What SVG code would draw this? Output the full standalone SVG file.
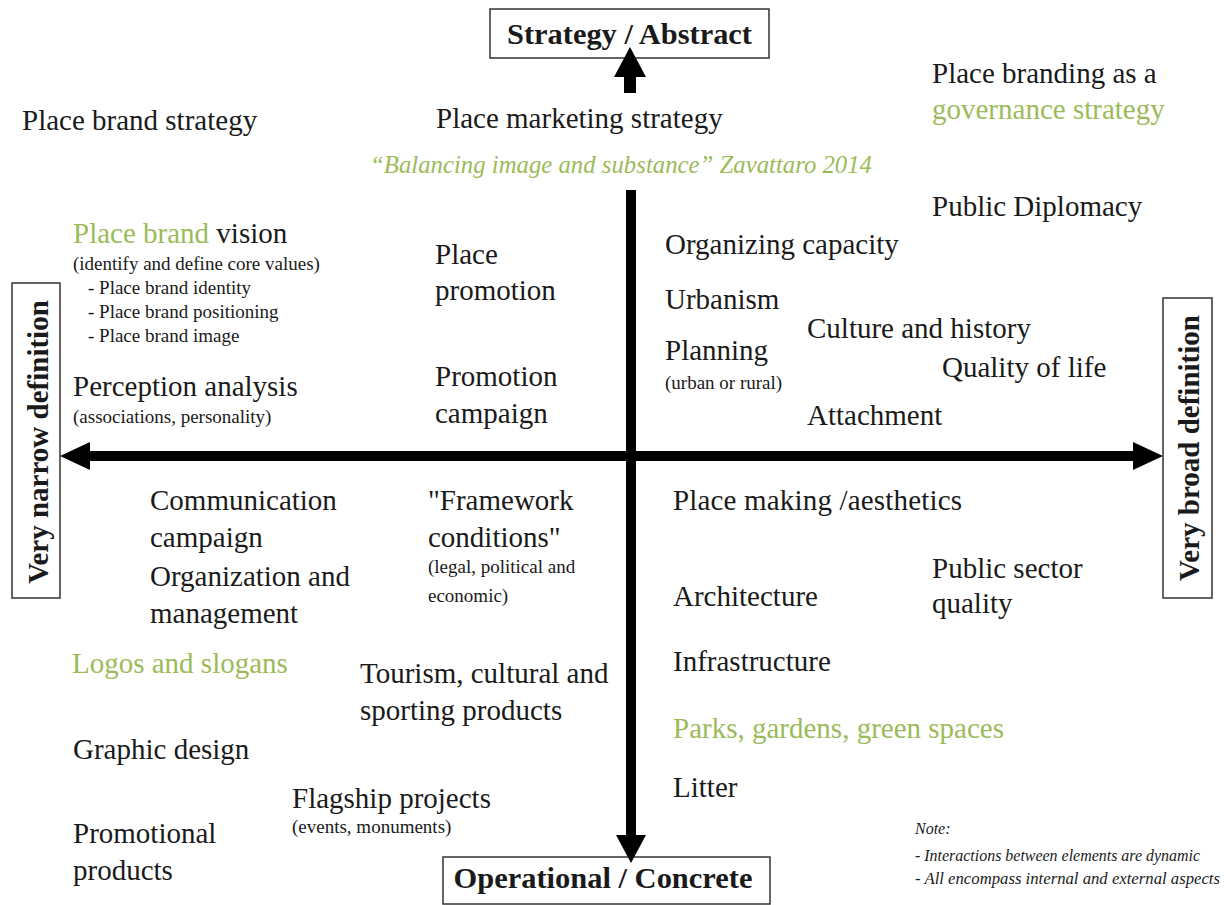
<svg xmlns="http://www.w3.org/2000/svg" width="1224" height="905" viewBox="0 0 1224 905">
<style>
text{font-family:"Liberation Serif","Times New Roman",serif;fill:#1a1a1a}
.t{font-size:29px}
.s{font-size:19px}
.g{fill:#9bbb59}
.q{font-size:26px;font-style:italic;fill:#9bbb59}
.n{font-size:16px;font-style:italic}
.b{font-size:29px;font-weight:bold}
.box{fill:#fff;stroke:#333;stroke-width:1.5}
.ax{fill:#000;stroke:none}
</style>
<rect x="0" y="0" width="1224" height="905" fill="#fff"/>

<g id="node-top">
<rect class="box" x="490" y="9" width="279" height="49"/>
<text class="b" x="629.5" y="44" text-anchor="middle" textLength="245" lengthAdjust="spacingAndGlyphs">Strategy / Abstract</text>
</g>
<g id="node-bottom">
<rect class="box" x="443" y="857" width="327" height="47"/>
<text class="b" x="603" y="888" text-anchor="middle" textLength="299" lengthAdjust="spacingAndGlyphs">Operational / Concrete</text>
</g>
<g id="node-left">
<rect class="box" x="12" y="283" width="48" height="315"/>
<text class="b" transform="translate(48,442) rotate(-90)" text-anchor="middle">Very narrow definition</text>
</g>
<g id="node-right">
<rect class="box" x="1163" y="298" width="49" height="300"/>
<text class="b" transform="translate(1199,448) rotate(-90)" text-anchor="middle">Very broad definition</text>
</g>

<g id="connectors">
<rect class="ax" x="624" y="76" width="12" height="17"/>
<polygon class="ax" points="630,47 646,77 614,77"/>
<rect class="ax" x="626" y="190" width="10" height="646"/>
<polygon class="ax" points="631,863 616,835 646,835"/>
<rect class="ax" x="89" y="451" width="1045" height="10"/>
<polygon class="ax" points="60,456 90,442 90,470"/>
<polygon class="ax" points="1163,456 1133,442 1133,470"/>
</g>

<g id="q1-strategy">
<text class="t" x="22" y="130">Place brand strategy</text>
</g>
<g id="q-marketing">
<text class="t" x="436" y="128">Place marketing strategy</text>
<text class="q" x="370" y="173" textLength="502" lengthAdjust="spacingAndGlyphs">“Balancing image and substance” Zavattaro 2014</text>
</g>
<g id="governance">
<text class="t" x="932" y="83">Place branding as a</text>
<text class="t g" x="932" y="119">governance strategy</text>
</g>
<g id="diplomacy"><text class="t" x="932" y="216">Public Diplomacy</text></g>

<g id="vision">
<text class="t" x="73" y="243"><tspan class="g">Place brand</tspan> vision</text>
<text class="s" x="73" y="270">(identify and define core values)</text>
<text class="s" x="88" y="294">- Place brand identity</text>
<text class="s" x="88" y="318">- Place brand positioning</text>
<text class="s" x="88" y="342">- Place brand image</text>
</g>
<g id="perception">
<text class="t" x="73" y="396">Perception analysis</text>
<text class="s" x="73" y="423">(associations, personality)</text>
</g>
<g id="place-promotion">
<text class="t" x="435" y="264">Place</text>
<text class="t" x="435" y="300">promotion</text>
</g>
<g id="promotion-campaign">
<text class="t" x="435" y="386">Promotion</text>
<text class="t" x="435" y="423">campaign</text>
</g>

<g id="organizing"><text class="t" x="665" y="254">Organizing capacity</text></g>
<g id="urbanism"><text class="t" x="665" y="309">Urbanism</text></g>
<g id="planning">
<text class="t" x="665" y="360">Planning</text>
<text class="s" x="665" y="389">(urban or rural)</text>
</g>
<g id="culture"><text class="t" x="807" y="338">Culture and history</text></g>
<g id="quality-life"><text class="t" x="942" y="377">Quality of life</text></g>
<g id="attachment"><text class="t" x="807" y="425">Attachment</text></g>

<g id="communication">
<text class="t" x="150" y="510">Communication</text>
<text class="t" x="150" y="547">campaign</text>
</g>
<g id="organization">
<text class="t" x="150" y="586">Organization and</text>
<text class="t" x="150" y="623">management</text>
</g>
<g id="logos"><text class="t g" x="72" y="673">Logos and slogans</text></g>
<g id="graphic"><text class="t" x="73" y="759">Graphic design</text></g>
<g id="promotional">
<text class="t" x="73" y="843">Promotional</text>
<text class="t" x="73" y="880">products</text>
</g>
<g id="tourism">
<text class="t" x="360" y="683">Tourism, cultural and</text>
<text class="t" x="360" y="720">sporting products</text>
</g>
<g id="flagship">
<text class="t" x="292" y="808">Flagship projects</text>
<text class="s" x="292" y="833">(events, monuments)</text>
</g>
<g id="framework">
<text class="t" x="428" y="510">"Framework</text>
<text class="t" x="428" y="547">conditions"</text>
<text class="s" x="428" y="573">(legal, political and</text>
<text class="s" x="428" y="602">economic)</text>
</g>

<g id="placemaking"><text class="t" x="673" y="510" textLength="289" lengthAdjust="spacing">Place making /aesthetics</text></g>
<g id="architecture"><text class="t" x="673" y="606">Architecture</text></g>
<g id="infrastructure"><text class="t" x="673" y="671">Infrastructure</text></g>
<g id="public-sector">
<text class="t" x="932" y="578">Public sector</text>
<text class="t" x="932" y="613">quality</text>
</g>
<g id="parks"><text class="t g" x="673" y="738">Parks, gardens, green spaces</text></g>
<g id="litter"><text class="t" x="673" y="797">Litter</text></g>

<g id="note">
<text class="n" x="915" y="834">Note:</text>
<text class="n" x="915" y="861" textLength="285" lengthAdjust="spacingAndGlyphs">- Interactions between elements are dynamic</text>
<text class="n" x="915" y="884" textLength="305" lengthAdjust="spacingAndGlyphs">- All encompass internal and external aspects</text>
</g>
</svg>
